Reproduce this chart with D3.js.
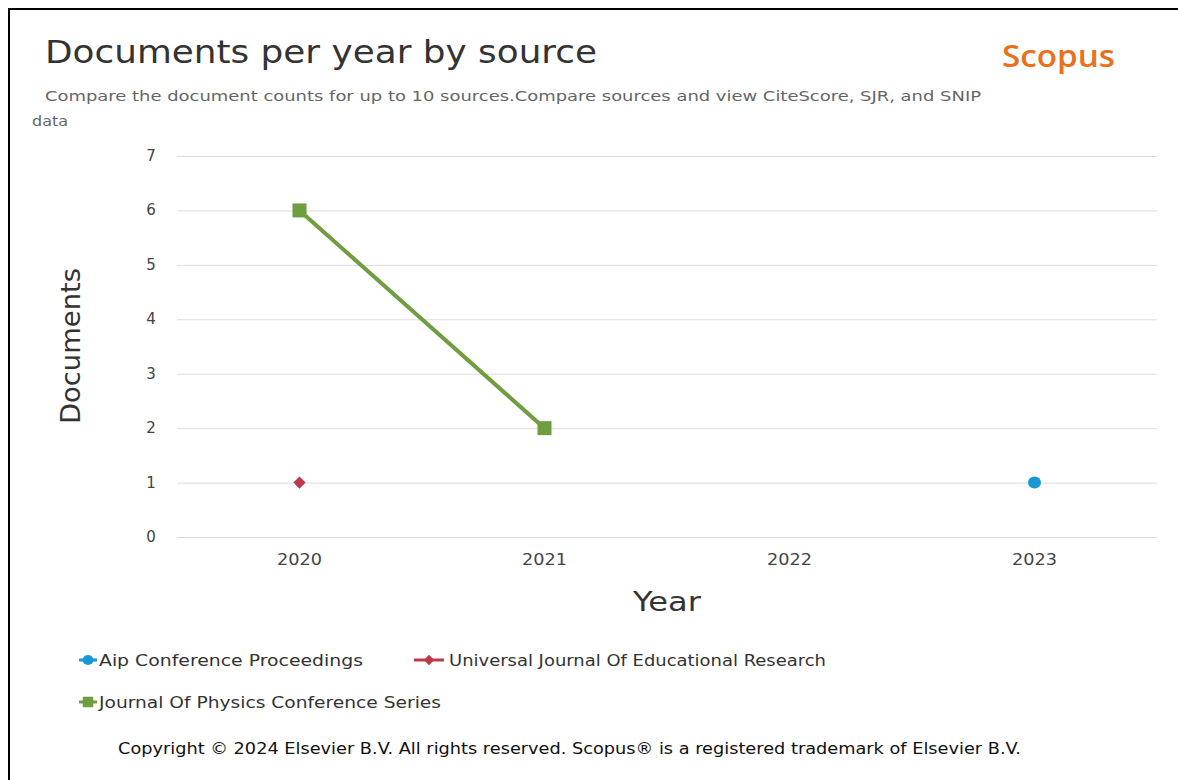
<!DOCTYPE html>
<html><head><meta charset="utf-8">
<script src="https://cdn.jsdelivr.net/npm/d3@7"></script>
<style>html,body{margin:0;padding:0;background:#fff;}svg{display:block;}</style>
</head><body>
<script>
const years = ["2020","2021","2022","2023"];
const yTicks = [0,1,2,3,4,5,6,7];
const seriesNames = ["Aip Conference Proceedings","Universal Journal Of Educational Research","Journal Of Physics Conference Series"];
const seriesColors = ["#1b98d3","#c0394b","#6f9d40"];
const seriesShapes = ["circle","diamond","square"];
const aipValues = [null,null,null,1];
const ujerValues = [1,null,null,null];
const jpcsValues = [6,2,null,null];
const seriesValues = [aipValues, ujerValues, jpcsValues];

const W=1178,H=780;
const svg=d3.select("body").append("svg").attr("width",W).attr("height",H);
svg.append("rect").attr("width",W).attr("height",H).attr("fill","#fff");
svg.append("line").attr("x1",8).attr("x2",W).attr("y1",9).attr("y2",9).attr("stroke","#000").attr("stroke-width",2);
svg.append("line").attr("x1",9).attr("x2",9).attr("y1",8).attr("y2",H).attr("stroke","#000").attr("stroke-width",2);

const font="DejaVu Sans";
function txt(x0,y0,size,fill,s,len,opts={}){
  const t=svg.append("text").attr("x",x0).attr("y",y0).attr("font-family",opts.family||font)
    .attr("font-size",size).attr("fill",fill).text(s);
  if(len) t.attr("textLength",len).attr("lengthAdjust","spacingAndGlyphs");
  if(opts.anchor) t.attr("text-anchor",opts.anchor);
  if(opts.weight) t.attr("font-weight",opts.weight);
  return t;
}
txt(45,63,32,"#333","Documents per year by source",552);
txt(1002,67,31,"#e8711d","Scopus",113,{family:"Open Sans",weight:600});
txt(45,101,14.5,"#666","Compare the document counts for up to 10 sources.Compare sources and view CiteScore, SJR, and SNIP",936);
txt(32,126,14.5,"#666","data",36);

const x=d3.scaleBand().domain(years).range([177,1157]);
const y=d3.scaleLinear().domain([0,7]).range([537,156]);

const g=svg.append("g");
const yAxis=g.append("g").attr("transform","translate(177,0)")
  .call(d3.axisLeft(y).tickValues(yTicks).tickSize(-980).tickPadding(21).tickFormat(d3.format("d")));
yAxis.select(".domain").remove();
yAxis.selectAll(".tick line").attr("stroke","#dcdcdc").attr("stroke-width",1);
yAxis.selectAll(".tick text").attr("font-family",font).attr("font-size",15).attr("fill","#444")
  .attr("text-anchor","middle").attr("x",-26).attr("dy","0.3em");

const xAxis=g.append("g").attr("transform","translate(0,537)")
  .call(d3.axisBottom(x).tickSize(0).tickPadding(17));
xAxis.select(".domain").remove();
xAxis.selectAll(".tick text").attr("font-family",font).attr("font-size",15).attr("fill","#444")
  .attr("textLength",45).attr("lengthAdjust","spacingAndGlyphs");

svg.append("text").attr("transform","translate(80,346) rotate(-90)").attr("text-anchor","middle")
  .attr("font-family",font).attr("font-size",26).attr("fill","#333")
  .attr("textLength",156).attr("lengthAdjust","spacingAndGlyphs").text("Documents");
svg.append("text").attr("x",667).attr("y",611).attr("text-anchor","middle")
  .attr("font-family",font).attr("font-size",26).attr("fill","#333")
  .attr("textLength",68).attr("lengthAdjust","spacingAndGlyphs").text("Year");

function drawMarker(sel,shape,color,cx,cy,scale){
  if(shape==="circle") sel.append("ellipse").attr("cx",cx).attr("cy",cy).attr("rx",6.5*scale).attr("ry",6*scale).attr("fill",color);
  else if(shape==="diamond") sel.append("path").attr("d",d3.symbol(d3.symbolDiamond2,95*scale*scale)()).attr("transform",`translate(${cx},${cy})`).attr("fill",color);
  else sel.append("rect").attr("x",cx-7*scale).attr("y",cy-7*scale).attr("width",14*scale).attr("height",14*scale).attr("fill",color);
}

const line=d3.line().defined(d=>d.v!=null).x(d=>x(d.year)+x.bandwidth()/2).y(d=>y(d.v));
seriesValues.forEach((vals,i)=>{
  const pts=years.map((yr,j)=>({year:yr,v:vals[j]}));
  svg.append("path").datum(pts).attr("d",line).attr("fill","none").attr("stroke",seriesColors[i]).attr("stroke-width",4);
  pts.filter(p=>p.v!=null).forEach(p=>drawMarker(svg,seriesShapes[i],seriesColors[i],x(p.year)+x.bandwidth()/2,y(p.v),1));
});

// legend
const legendPos=[[79,660],[414,660],[79,702]];
const legendLens=[264,377,342];
seriesNames.forEach((n,i)=>{
  const [lx,ly]=legendPos[i];
  const lw = i===1?30:18;
  svg.append("line").attr("x1",lx).attr("x2",lx+lw).attr("y1",ly).attr("y2",ly).attr("stroke",seriesColors[i]).attr("stroke-width",3);
  drawMarker(svg,seriesShapes[i],seriesColors[i],lx+lw/2,ly,i===2?0.75:0.85);
  txt(lx+lw+(i===1?5:2),ly+6,15.5,"#333",n,legendLens[i]);
});

txt(118,754,15.5,"#111","Copyright © 2024 Elsevier B.V. All rights reserved. Scopus® is a registered trademark of Elsevier B.V.",903);
</script>
</body></html>
